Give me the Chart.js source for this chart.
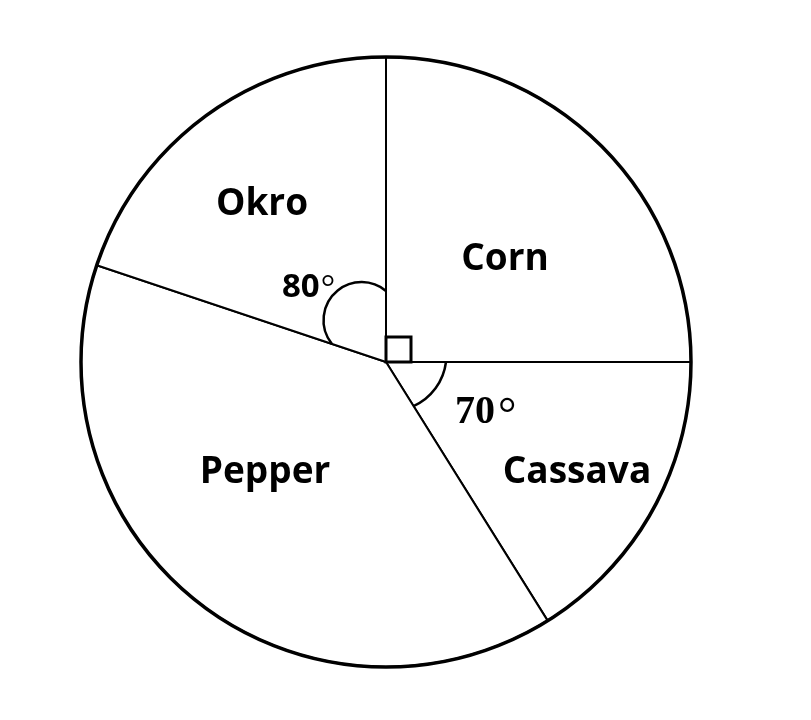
<!DOCTYPE html>
<html>
<head>
<meta charset="utf-8">
<script src="https://cdn.jsdelivr.net/npm/chart.js@4/dist/chart.umd.min.js"></script>
<style>
  body { margin: 0; background: #fff; }
  #wrap { width: 811px; height: 720px; }
</style>
</head>
<body>
<div id="wrap"><canvas id="pieChart"></canvas></div>
<script>
// Crops and the slice angles as drawn (degrees, clockwise from the top)
var crops = ['Corn', 'Cassava', 'Pepper', 'Okro'];
var angles = [90, 58, 140.5, 71.5];
// angle marks written on the diagram
var angleText = ['80', '70'];

// where the crop names sit, offset from the pie centre (text baseline)
var namePos = [[119, -92], [191, 121], [-121, 121], [-124, -147]];

function edgePoint(c, ang, d) {
  return { x: c.x + d * Math.cos(ang), y: c.y + d * Math.sin(ang) };
}

// arc of radius r joining a point on the slice's start edge to one on its end edge
function angleArc(ctx, c, arc, dStart, dEnd, r) {
  var a = edgePoint(c, arc.startAngle, dStart);
  var b = edgePoint(c, arc.endAngle, dEnd);
  var mx = (a.x + b.x) / 2, my = (a.y + b.y) / 2;
  var vx = b.x - a.x, vy = b.y - a.y;
  var len = Math.sqrt(vx * vx + vy * vy);
  var h = Math.sqrt(Math.max(r * r - len * len / 4, 0));
  var px = -vy / len, py = vx / len;
  // keep the arc centre on the pie-centre side of the chord
  if (px * (c.x - mx) + py * (c.y - my) < 0) { px = -px; py = -py; }
  var ox = mx + h * px, oy = my + h * py;
  ctx.beginPath();
  ctx.arc(ox, oy, r, Math.atan2(a.y - oy, a.x - ox), Math.atan2(b.y - oy, b.x - ox), false);
  ctx.stroke();
}

var marks = {
  id: 'marks',
  afterDatasetsDraw: function(chart) {
    var ctx = chart.ctx;
    var arcs = chart.getDatasetMeta(0).data;
    var c = { x: arcs[0].x, y: arcs[0].y };
    var R = arcs[0].outerRadius;
    ctx.save();
    ctx.strokeStyle = '#000';

    // heavier rim
    ctx.lineWidth = 3.5;
    ctx.beginPath();
    ctx.arc(c.x, c.y, R, 0, Math.PI * 2);
    ctx.stroke();

    // right-angle box in the Corn slice
    var s = 25, corn = arcs[0];
    var p1 = edgePoint(c, corn.startAngle, s);
    var p3 = edgePoint(c, corn.endAngle, s);
    ctx.lineWidth = 3;
    ctx.beginPath();
    ctx.moveTo(c.x, c.y);
    ctx.lineTo(p1.x, p1.y);
    ctx.lineTo(p1.x + p3.x - c.x, p1.y + p3.y - c.y);
    ctx.lineTo(p3.x, p3.y);
    ctx.closePath();
    ctx.stroke();

    // angle arcs for Okro and Cassava
    ctx.lineWidth = 2.5;
    angleArc(ctx, c, arcs[3], 57, 71, 38);
    angleArc(ctx, c, arcs[1], 60, 52, 56);

    // crop names
    ctx.fillStyle = '#000';
    ctx.textAlign = 'center';
    ctx.textBaseline = 'alphabetic';
    ctx.font = 'bold 37px "Open Sans"';
    crops.forEach(function(name, i) {
      ctx.fillText(name, c.x + namePos[i][0], c.y + namePos[i][1]);
    });

    // 80 degree mark
    ctx.textAlign = 'left';
    ctx.font = 'bold 33px "Open Sans"';
    var x80 = c.x - 104, y80 = c.y - 65;
    ctx.fillText(angleText[0], x80, y80);
    var w80 = ctx.measureText(angleText[0]).width;
    ctx.font = '36px "Liberation Serif"';
    ctx.fillText('°', x80 + w80 + 1, y80 + 2);

    // 70 degree mark
    ctx.font = 'bold 40px "Liberation Serif"';
    var x70 = c.x + 69, y70 = c.y + 61;
    ctx.fillText(angleText[1], x70, y70);
    var w70 = ctx.measureText(angleText[1]).width;
    ctx.font = '46px "Liberation Serif"';
    ctx.fillText('°', x70 + w70 + 3, y70 + 6);

    ctx.restore();
  }
};

var ctx = document.getElementById('pieChart').getContext('2d');
var pieChart = new Chart(ctx, {
  type: 'pie',
  data: {
    labels: crops,
    datasets: [{
      data: angles,
      backgroundColor: '#ffffff',
      borderColor: '#000000',
      borderWidth: 2
    }]
  },
  options: {
    responsive: true,
    maintainAspectRatio: false,
    animation: false,
    events: [],
    radius: 305,
    layout: { padding: { left: 0, right: 39, top: 4, bottom: 0 } },
    plugins: {
      legend: { display: false },
      tooltip: { enabled: false }
    }
  },
  plugins: [marks]
});
</script>
</body>
</html>
